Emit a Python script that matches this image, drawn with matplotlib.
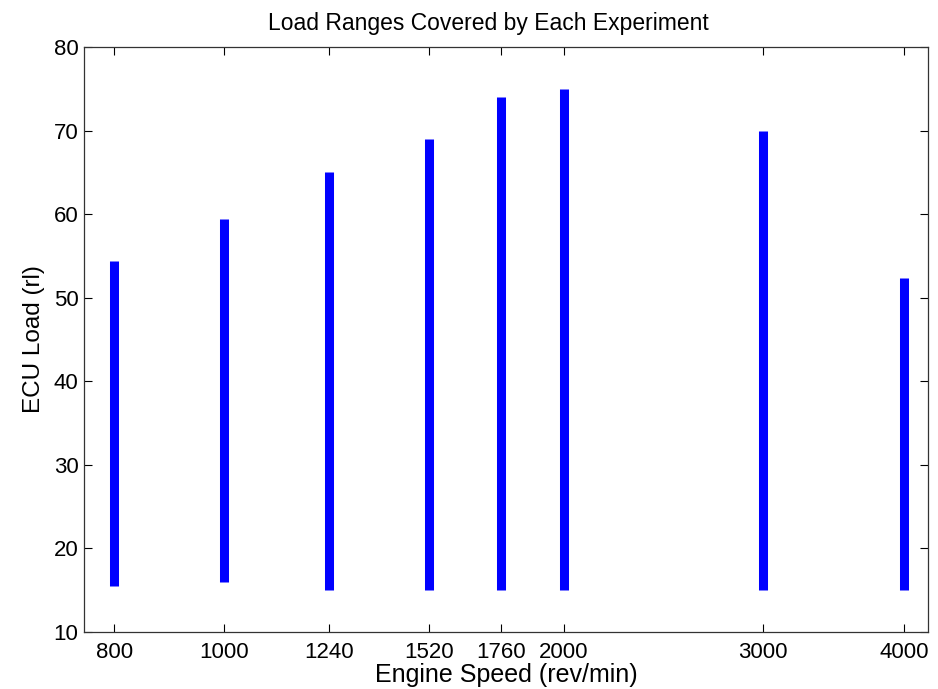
import numpy as np
import matplotlib.pyplot as plt

plt.rcParams['font.family'] = ['Liberation Sans', 'DejaVu Sans']

# engine speeds (rev/min) and load range covered at each
speeds = [800, 1000, 1240, 1520, 1760, 2000, 3000, 4000]
load_min = [15.5, 16.0, 15.0, 15.0, 15.0, 15.0, 15.0, 15.0]
load_max = [54.4, 59.4, 65.1, 69.0, 74.0, 75.0, 70.0, 52.4]

fig = plt.figure(figsize=(9.38, 6.89), dpi=100)
ax = fig.add_axes([84 / 938, 1 - 632 / 689, (928 - 84) / 938, (632 - 47) / 689])

ax.vlines(speeds, load_min, load_max, colors='#0000ff', linewidth=6.5,
          capstyle='butt')

ax.set_xscale('log')
ax.set_xlim(752, 4200)
ax.set_ylim(10, 80)
ax.set_xticks(speeds)
ax.set_xticklabels([str(s) for s in speeds])
ax.xaxis.set_minor_locator(plt.NullLocator())
ax.set_yticks(np.arange(10, 81, 10))

ax.tick_params(direction='in', length=6, width=0.8, top=True, right=True,
               labelsize=16)
ax.tick_params(axis='x', pad=7)
ax.tick_params(axis='y', pad=4)
for s in ax.spines.values():
    s.set_linewidth(0.9)
    s.set_color('#333333')

ax.set_title("Load Ranges Covered by Each Experiment", fontsize=16.5, pad=12,
             x=(488 - 84) / 844)
ax.set_xlabel("Engine Speed (rev/min)", fontsize=18, labelpad=0)
ax.set_ylabel("ECU Load (rl)", fontsize=17.5, labelpad=6)

fig.savefig("out.png", dpi=100)
